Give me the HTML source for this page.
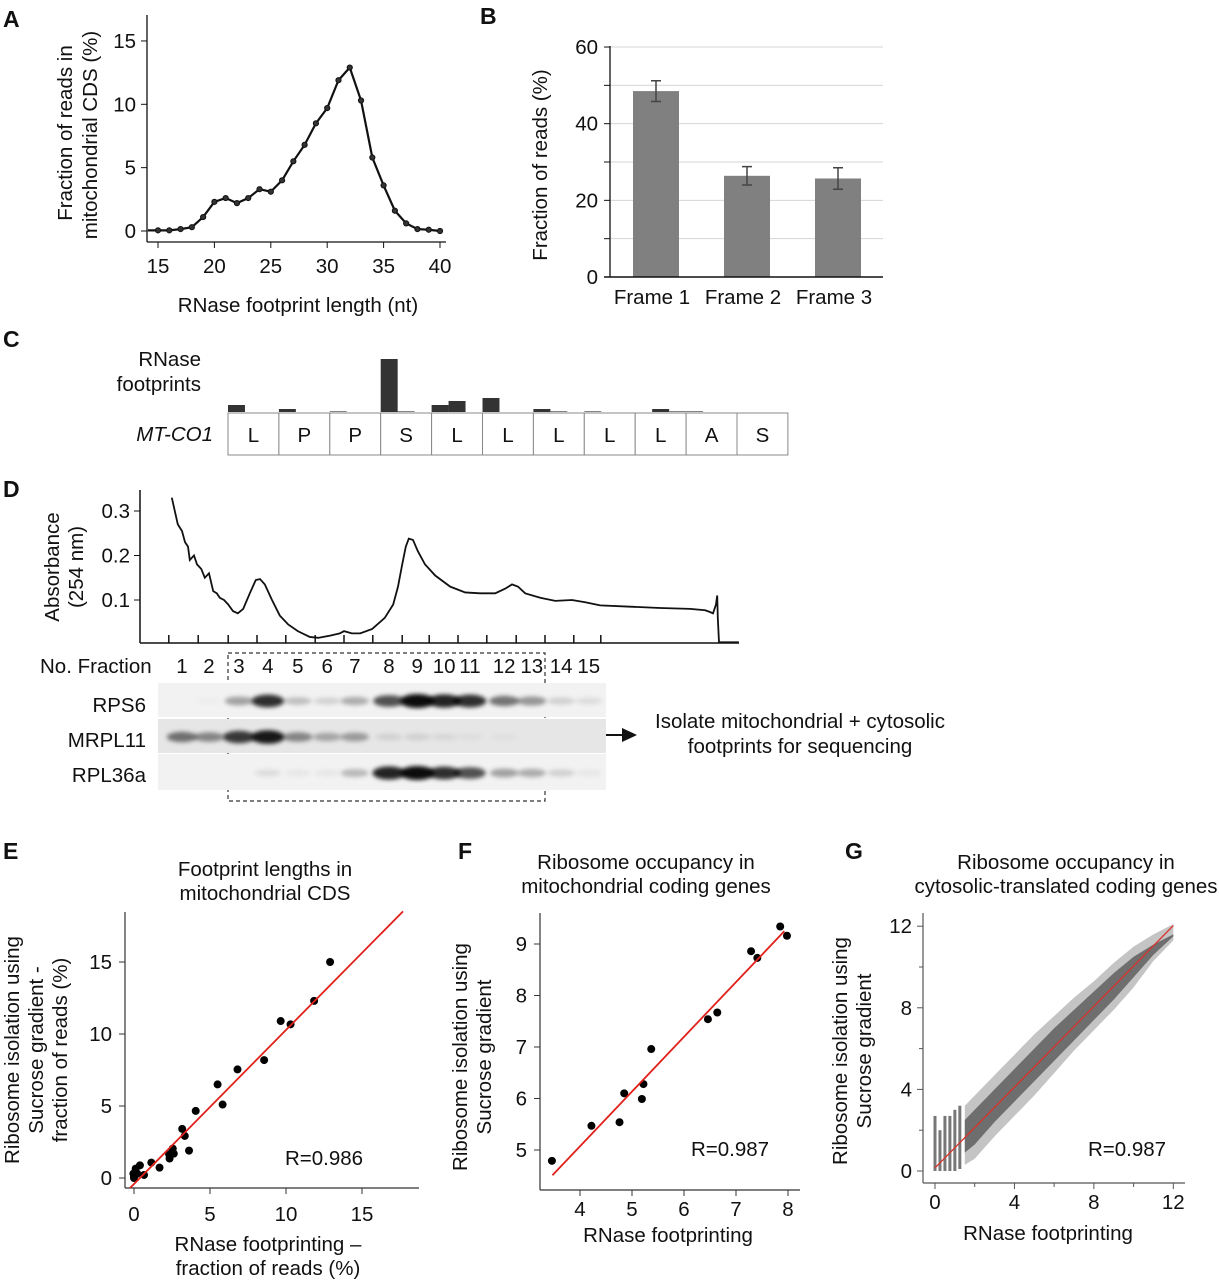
<!DOCTYPE html>
<html><head><meta charset="utf-8">
<style>
html,body{margin:0;padding:0;background:#fff;}
svg{display:block;font-family:"Liberation Sans",Arial,sans-serif;}
text{fill:#111;font-size:20.5px;}
.letters text{font-size:23px;font-weight:bold;}
</style></head>
<body>
<svg id="fig" width="1219" height="1280" viewBox="0 0 1219 1280" xmlns="http://www.w3.org/2000/svg">
<defs>
<filter id="blur" x="-50%" y="-100%" width="200%" height="300%"><feGaussianBlur stdDeviation="2.2"/></filter>
</defs>
<g class="letters">
<text x="3" y="27">A</text>
<text x="480" y="24">B</text>
<text x="3" y="347">C</text>
<text x="3" y="497">D</text>
<text x="3" y="859">E</text>
<text x="458" y="859">F</text>
<text x="845" y="859">G</text>
</g>

<g id="pA">
<line x1="147" y1="15" x2="147" y2="242" stroke="#111" stroke-width="1.3"/>
<line x1="147" y1="242" x2="446" y2="242" stroke="#111" stroke-width="1.3"/>
<text transform="translate(72,133) rotate(-90)" text-anchor="middle">Fraction of reads in</text>
<text transform="translate(97,135) rotate(-90)" text-anchor="middle">mitochondrial CDS (%)</text>
<text x="298" y="312" text-anchor="middle">RNase footprint length (nt)</text>
</g>

<g id="pB">
<text transform="translate(547,165) rotate(-90)" text-anchor="middle">Fraction of reads (%)</text>
</g>

<g id="pC">
<text x="201" y="366" text-anchor="end">RNase</text>
<text x="201" y="391" text-anchor="end">footprints</text>
<text x="213" y="441" text-anchor="end" font-style="italic">MT-CO1</text>
</g>

<g id="pD">
<line x1="140" y1="490" x2="140" y2="643" stroke="#111" stroke-width="1.5"/>
<line x1="140" y1="643" x2="739" y2="643" stroke="#111" stroke-width="1.5"/>
<text transform="translate(59,567) rotate(-90)" text-anchor="middle">Absorbance</text>
<text transform="translate(83,567) rotate(-90)" text-anchor="middle">(254 nm)</text>
<text x="40" y="673">No. Fraction</text>
<text x="146" y="712" text-anchor="end">RPS6</text>
<text x="146" y="747" text-anchor="end">MRPL11</text>
<text x="146" y="782" text-anchor="end">RPL36a</text>
<rect x="228" y="653" width="317" height="148" fill="none" stroke="#333" stroke-width="1.2" stroke-dasharray="4,3"/>
<line x1="550" y1="735" x2="624" y2="735" stroke="#111" stroke-width="2"/>
<polygon points="622,728 637,735 622,742" fill="#111"/>
<text x="800" y="728" text-anchor="middle">Isolate mitochondrial + cytosolic</text>
<text x="800" y="753" text-anchor="middle">footprints for sequencing</text>
</g>

<g id="pE">
<text x="265" y="876" text-anchor="middle">Footprint lengths in</text>
<text x="265" y="900" text-anchor="middle">mitochondrial CDS</text>
<line x1="125" y1="912" x2="125" y2="1188" stroke="#333" stroke-width="1.2"/>
<line x1="125" y1="1188" x2="419" y2="1188" stroke="#333" stroke-width="1.2"/>
<text transform="translate(19,1050) rotate(-90)" text-anchor="middle">Ribosome isolation using</text>
<text transform="translate(43,1050) rotate(-90)" text-anchor="middle">Sucrose gradient -</text>
<text transform="translate(67,1050) rotate(-90)" text-anchor="middle">fraction of reads (%)</text>
<text x="268" y="1251" text-anchor="middle">RNase footprinting –</text>
<text x="268" y="1275" text-anchor="middle">fraction of reads (%)</text>
<text x="324" y="1165" text-anchor="middle">R=0.986</text>
</g>

<g id="pF">
<text x="646" y="869" text-anchor="middle">Ribosome occupancy in</text>
<text x="646" y="893" text-anchor="middle">mitochondrial coding genes</text>
<line x1="540" y1="913" x2="540" y2="1190" stroke="#333" stroke-width="1.2"/>
<line x1="540" y1="1190" x2="800" y2="1190" stroke="#333" stroke-width="1.2"/>
<text transform="translate(467,1057) rotate(-90)" text-anchor="middle">Ribosome isolation using</text>
<text transform="translate(491,1057) rotate(-90)" text-anchor="middle">Sucrose gradient</text>
<text x="668" y="1242" text-anchor="middle">RNase footprinting</text>
<text x="730" y="1156" text-anchor="middle">R=0.987</text>
</g>

<g id="pG">
<text x="1066" y="869" text-anchor="middle">Ribosome occupancy in</text>
<text x="1066" y="893" text-anchor="middle">cytosolic-translated coding genes</text>
<line x1="923" y1="913" x2="923" y2="1183" stroke="#555" stroke-width="1.2"/>
<line x1="923" y1="1183" x2="1185" y2="1183" stroke="#555" stroke-width="1.2"/>
<text transform="translate(847,1051) rotate(-90)" text-anchor="middle">Ribosome isolation using</text>
<text transform="translate(871,1051) rotate(-90)" text-anchor="middle">Sucrose gradient</text>
<text x="1048" y="1240" text-anchor="middle">RNase footprinting</text>
<text x="1127" y="1156" text-anchor="middle">R=0.987</text>
</g>
</svg>
<script>
const aLengths = [15,16,17,18,19,20,21,22,23,24,25,26,27,28,29,30,31,32,33,34,35,36,37,38,39,40];
const aFractions = [0.05,0.05,0.15,0.3,1.1,2.3,2.6,2.2,2.6,3.3,3.1,4.0,5.5,6.8,8.5,9.7,11.9,12.9,10.3,5.8,3.6,1.6,0.6,0.15,0.1,0.0];
const aXTicks = [15,20,25,30,35,40];
const aYTicks = [0,5,10,15];

const bFrames = ["Frame 1","Frame 2","Frame 3"];
const bValues = [48.5,26.4,25.7];
const bErrors = [2.7,2.4,2.8];
const bYTicks = [0,20,40,60];

const cResidues = ["L","P","P","S","L","L","L","L","L","A","S"];
const cNtPositions = [0,3,6,9,10,12,13,15,18,19,21,25,26,27];
const cFootprints = [7,3,0.6,53,0.6,7,11,14,3,0.6,0.6,3,0.6,0.6];

const dPos = [5.3,6.3,7.0,7.5,8.0,8.3,9.0,9.5,10.2,10.8,11.5,12.2,12.8,13.3,14.0,14.7,15.5,16.3,17.2,18.3,19.3,20,20.8,22,23.3,24.7,26.3,28.3,29.7,31.7,33.3,34,35.3,36.7,38.7,40.8,42.2,43,43.7,44.3,44.8,45.5,46.3,47.5,49.2,51.7,54.2,56.7,59.2,60.8,62,63,64.2,66.7,69.2,72,74.2,76.7,81.7,86.7,91.7,94.2,95,95.5,96,96.2,96.3,96.5,99.8];
const dAbs = [0.33,0.27,0.255,0.23,0.22,0.19,0.2,0.18,0.17,0.15,0.16,0.12,0.115,0.105,0.1,0.09,0.075,0.07,0.08,0.115,0.145,0.147,0.135,0.10,0.065,0.045,0.03,0.017,0.015,0.02,0.025,0.03,0.025,0.025,0.035,0.06,0.09,0.13,0.18,0.22,0.238,0.235,0.21,0.18,0.155,0.13,0.117,0.115,0.115,0.125,0.135,0.13,0.115,0.105,0.098,0.1,0.095,0.088,0.085,0.082,0.08,0.077,0.073,0.07,0.09,0.11,0.06,0.005,0.005];
const dYTicks = [0.1,0.2,0.3];
const dTickPos = [4.8,9.7,14.7,19.5,24.3,29.2,34,38.8,43.7,48.2,53,57.8,62.7,67.5,72.3,76.8];
const dFractions = ["1","2","3","4","5","6","7","8","9","10","11","12","13","14","15"];
const dLanePos = [7,11.5,16.5,21.3,26.3,31.2,35.8,41.5,46.2,50.7,55,60.7,65.3,70.2,74.8];
const blotRps6 = [0,0.02,0.35,0.85,0.22,0.14,0.3,0.7,1.0,0.9,0.85,0.55,0.4,0.15,0.1];
const blotMrpl11 = [0.55,0.45,0.8,0.95,0.45,0.3,0.35,0.1,0.1,0.07,0.04,0.03,0,0,0];
const blotRpl36a = [0,0,0,0.1,0.05,0.05,0.25,0.9,1.0,0.85,0.7,0.35,0.3,0.15,0.05];

const eX = [12.9,11.85,9.65,10.3,8.56,6.81,5.5,5.83,4.06,3.17,3.34,3.62,2.31,2.55,2.62,2.34,1.68,1.14,0.66,0.39,0.11,0,-0.04,0.1,0.22,0];
const eY = [15.0,12.3,10.9,10.67,8.19,7.54,6.5,5.1,4.66,3.41,2.92,1.9,1.65,2.04,1.69,1.35,0.72,1.07,0.21,0.88,0.65,0.12,0.3,0.42,0.3,0];
const eFit = [-0.42,1.07];
const eTicks = [0,5,10,15];

const fX = [3.46,4.22,4.76,4.85,5.19,5.22,5.37,6.46,6.64,7.29,7.41,7.85,7.98];
const fY = [4.79,5.47,5.54,6.10,5.99,6.28,6.96,7.54,7.67,8.86,8.73,9.34,9.16];
const fFit = [0.82,1.063];
const fXTicks = [4,5,6,7,8];
const fYTicks = [5,6,7,8,9];

const gBandX = [1.5,2,3,4,5,6,7,8,9,10,11,12];
const gOuterLow = [0.3,0.6,1.7,2.7,3.7,4.8,5.9,6.9,7.9,9.0,10.3,11.3];
const gOuterHigh = [3.2,3.7,4.7,5.7,6.7,7.6,8.5,9.3,10.2,11.0,11.6,12.1];
const gCoreLow = [0.9,1.3,2.4,3.4,4.4,5.4,6.4,7.4,8.4,9.5,10.6,11.5];
const gCoreHigh = [2.5,3.0,4.0,5.0,6.0,7.0,7.9,8.8,9.7,10.5,11.1,11.6];
const gColX = [0,0.25,0.5,0.75,1.0,1.25];
const gColLow = [0,0,0,0,0,0.1];
const gColHigh = [2.7,2.0,2.7,2.7,3.0,3.2];
const gFit = [0.15,0.99];
const gTicks = [0,4,8,12];
const gMinor = [2,6,10];

const NS = "http://www.w3.org/2000/svg";
function mk(tag, parent, attrs){const e=document.createElementNS(NS,tag);for(const k in attrs)e.setAttribute(k,attrs[k]);parent.appendChild(e);return e;}
function txt(parent, x, y, s, anchor){const t=mk("text",parent,{x:x,y:y,"text-anchor":anchor});t.textContent=s;return t;}

const pA=document.getElementById("pA");
const ax=v=>158+(v-15)*11.28, ay=v=>231-v*12.67;
aXTicks.forEach(v=>{const l=mk("line",pA,{x1:ax(v),y1:242,x2:ax(v),y2:248,stroke:"#111"});


const t=txt(pA,ax(v),273,String(v),"middle");

});
aYTicks.forEach(v=>{const l=mk("line",pA,{x1:141,y1:ay(v),x2:147,y2:ay(v),stroke:"#111"});


const t=txt(pA,136,ay(v)+7,String(v),"end");

});
let dA="M"+ax(14.1)+","+ay(aFractions[0]);
aLengths.forEach((v,i)=>{dA+=" L"+ax(v)+","+ay(aFractions[i]);});
const la=mk("path",pA,{d:dA,fill:"none",stroke:"#111","stroke-width":2.2});


aLengths.forEach((v,i)=>{const c=mk("circle",pA,{cx:ax(v),cy:ay(aFractions[i]),r:2.6,fill:"#333",stroke:"#111"});

});

const pB=document.getElementById("pB");
const by=v=>277-v*3.833;
const bCenters=[656,747,838];
[10,20,30,40,50,60].forEach(v=>{const g=mk("line",pB,{x1:610,y1:by(v),x2:883,y2:by(v),stroke:"#d4d4d4","stroke-width":1});


const tk=mk("line",pB,{x1:604,y1:by(v),x2:610,y2:by(v),stroke:"#111"});

});
bYTicks.forEach(v=>{const t=txt(pB,598,by(v)+7,String(v),"end");

});
bFrames.forEach((f,i)=>{const cx=bCenters[i];
const r=mk("rect",pB,{x:cx-23,y:by(bValues[i]),width:46,height:by(0)-by(bValues[i]),fill:"#808080"});


const e=mk("path",pB,{d:`M${cx},${by(bValues[i]+bErrors[i])} V${by(bValues[i]-bErrors[i])} M${cx-5},${by(bValues[i]+bErrors[i])} h10 M${cx-5},${by(bValues[i]-bErrors[i])} h10`,stroke:"#444","stroke-width":1.5,fill:"none"});


const t=txt(pB,cx-4,304,f,"middle");

});
const bya=mk("line",pB,{x1:610,y1:46,x2:610,y2:277,stroke:"#111","stroke-width":1.3});


const bxa=mk("line",pB,{x1:604,y1:277,x2:883,y2:277,stroke:"#111","stroke-width":1.5});



const pC=document.getElementById("pC");
const boxW=50.9, ntW=boxW/3, cx0=228;
cNtPositions.forEach((p,i)=>{const r=mk("rect",pC,{x:cx0+p*ntW,y:412-cFootprints[i],width:ntW,height:cFootprints[i],fill:"#333"});

});
cResidues.forEach((a,i)=>{const r=mk("rect",pC,{x:cx0+i*boxW,y:413,width:boxW,height:42,fill:"#fff",stroke:"#888","stroke-width":1});


const t=txt(pC,cx0+i*boxW+boxW/2,442,a,"middle");

});

const pD=document.getElementById("pD");
const dx=u=>140+u*6, dy=v=>644.5-v*445;
dYTicks.forEach(v=>{const l=mk("line",pD,{x1:134,y1:dy(v),x2:140,y2:dy(v),stroke:"#111"});


const t=txt(pD,130,dy(v)+7,v.toFixed(1),"end");

});
dTickPos.forEach(u=>{const l=mk("line",pD,{x1:dx(u),y1:635,x2:dx(u),y2:643,stroke:"#111","stroke-width":1.5});

});
let dD="";dPos.forEach((u,i)=>{dD+=(i?" L":"M")+dx(u)+","+dy(dAbs[i]);});
const tr=mk("path",pD,{d:dD,fill:"none",stroke:"#111","stroke-width":1.8});


dFractions.forEach((f,i)=>{const t=txt(pD,dx(dLanePos[i]),673,f,"middle");

});
const rows=[[blotRps6,683,34,"#f2f2f2","rps6"],[blotMrpl11,719,34,"#e6e6e6","mrpl11"],[blotRpl36a,754,36,"#f2f2f2","rpl36a"]];
rows.forEach(r=>{const s=mk("rect",pD,{x:158,y:r[1],width:448,height:r[2],fill:r[3]});


r[0].forEach((v,i)=>{if(v<=0)return;const w=13+v*4, h=3+v*4;
const b=mk("ellipse",pD,{cx:dx(dLanePos[i]),cy:r[1]+r[2]/2+1,rx:w,ry:h,fill:"#000","fill-opacity":Math.min(1,v*0.95),filter:"url(#blur)"});

});});

const pE=document.getElementById("pE");
const ex=v=>134+v*15.2, ey=v=>1178-v*14.4;
eTicks.forEach(v=>{let l=mk("line",pE,{x1:ex(v),y1:1188,x2:ex(v),y2:1194,stroke:"#333"});


let t=txt(pE,ex(v),1221,String(v),"middle");


l=mk("line",pE,{x1:119,y1:ey(v),x2:125,y2:ey(v),stroke:"#333"});


t=txt(pE,112,ey(v)+7,String(v),"end");

});
eX.forEach((x,i)=>{const c=mk("circle",pE,{cx:ex(x),cy:ey(eY[i]),r:4,fill:"#000"});

});
{const x1=-0.26,x2=17.7;const l=mk("line",pE,{x1:ex(x1),y1:ey(eFit[0]+eFit[1]*x1),x2:ex(x2),y2:ey(eFit[0]+eFit[1]*x2),stroke:"#e0201a","stroke-width":1.8});

}

const pF=document.getElementById("pF");
const fx=v=>580+(v-4)*52, fy=v=>1150-(v-5)*51.5;
fXTicks.forEach(v=>{const l=mk("line",pF,{x1:fx(v),y1:1190,x2:fx(v),y2:1196,stroke:"#333"});


const t=txt(pF,fx(v),1216,String(v),"middle");

});
fYTicks.forEach(v=>{const l=mk("line",pF,{x1:534,y1:fy(v),x2:540,y2:fy(v),stroke:"#333"});


const t=txt(pF,527,fy(v)+7,String(v),"end");

});
fX.forEach((x,i)=>{const c=mk("circle",pF,{cx:fx(x),cy:fy(fY[i]),r:4,fill:"#000"});

});
{const x1=3.47,x2=7.93;const l=mk("line",pF,{x1:fx(x1),y1:fy(fFit[0]+fFit[1]*x1),x2:fx(x2),y2:fy(fFit[0]+fFit[1]*x2),stroke:"#e0201a","stroke-width":1.8});

}

const pG=document.getElementById("pG");
const gx=v=>935+v*19.86, gy=v=>1171-v*20.4;
gTicks.forEach(v=>{let l=mk("line",pG,{x1:gx(v),y1:1183,x2:gx(v),y2:1189,stroke:"#555"});


let t=txt(pG,gx(v),1209,String(v),"middle");


l=mk("line",pG,{x1:917,y1:gy(v),x2:923,y2:gy(v),stroke:"#555"});


t=txt(pG,912,gy(v)+7,String(v),"end");

});
gMinor.forEach(v=>{let l=mk("line",pG,{x1:gx(v),y1:1183,x2:gx(v),y2:1187,stroke:"#555"});


l=mk("line",pG,{x1:919,y1:gy(v),x2:923,y2:gy(v),stroke:"#555"});

});
function band(low,high,fill,name){let d="";gBandX.forEach((x,i)=>{d+=(i?" L":"M")+gx(x)+","+gy(high[i]);});
for(let i=gBandX.length-1;i>=0;i--)d+=" L"+gx(gBandX[i])+","+gy(low[i]);
const p=mk("path",pG,{d:d+"Z",fill:fill,stroke:"none"});

}
band(gOuterLow,gOuterHigh,"#c4c4c4","g-scatter-outer-cloud");
band(gCoreLow,gCoreHigh,"#6e6e6e","g-scatter-core-cloud");
gColX.forEach((x,i)=>{const r=mk("rect",pG,{x:gx(x)-1.5,y:gy(gColHigh[i]),width:3,height:gy(gColLow[i])-gy(gColHigh[i]),fill:"#777"});

});
{const x1=0,x2=12;const l=mk("line",pG,{x1:gx(x1),y1:gy(gFit[0]+gFit[1]*x1),x2:gx(x2),y2:gy(gFit[0]+gFit[1]*x2),stroke:"#d9322a","stroke-width":1.3});

}
</script>
</body></html>
